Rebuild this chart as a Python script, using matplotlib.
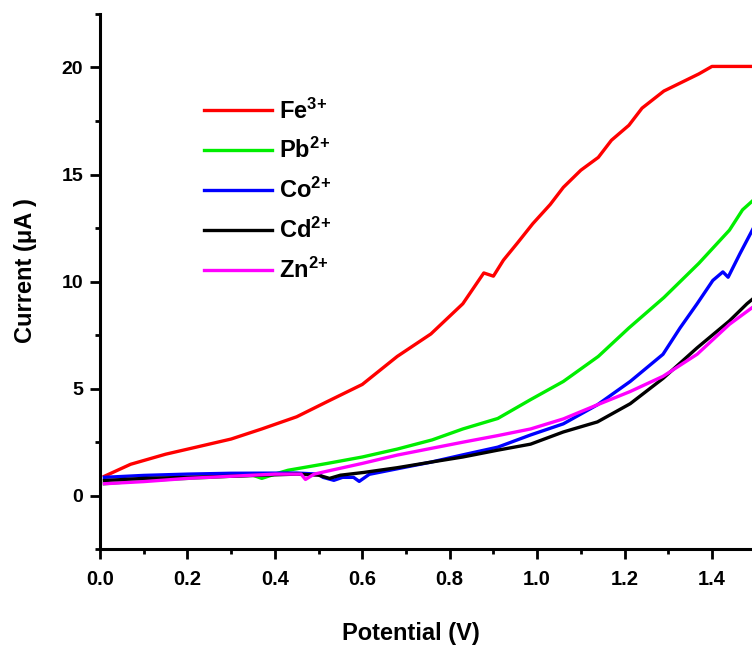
import matplotlib
matplotlib.use("Agg")
import matplotlib.pyplot as plt

plt.rcParams['font.family'] = ['Liberation Sans', 'DejaVu Sans']
plt.rcParams['font.weight'] = 'bold'
plt.rcParams['mathtext.fontset'] = 'custom'
plt.rcParams['mathtext.rm'] = 'Liberation Sans:bold'
plt.rcParams['mathtext.bf'] = 'Liberation Sans:bold'
plt.rcParams['mathtext.default'] = 'rm'

# data (potential in V, current in uA)
fe_x = [0.01, 0.07, 0.15, 0.22, 0.30, 0.37, 0.45, 0.52, 0.60, 0.68, 0.757, 0.83,
        0.878, 0.90, 0.923, 0.955, 0.99, 1.03, 1.06, 1.10, 1.14, 1.17, 1.21,
        1.24, 1.29, 1.33, 1.37, 1.40, 1.52]
fe_y = [0.9, 1.46, 1.93, 2.26, 2.64, 3.11, 3.68, 4.39, 5.19, 6.5, 7.55, 8.96,
        10.4, 10.25, 11.0, 11.8, 12.7, 13.6, 14.4, 15.2, 15.8, 16.6, 17.3,
        18.1, 18.9, 19.3, 19.7, 20.05, 20.05]

pb_x = [0.01, 0.1, 0.2, 0.3, 0.35, 0.37, 0.40, 0.43, 0.52, 0.60, 0.68, 0.76,
        0.83, 0.91, 0.985, 1.06, 1.14, 1.21, 1.29, 1.37, 1.44, 1.47, 1.50]
pb_y = [0.55, 0.7, 0.8, 0.9, 0.95, 0.8, 1.0, 1.18, 1.5, 1.8, 2.17, 2.6,
        3.11, 3.6, 4.48, 5.33, 6.5, 7.83, 9.25, 10.85, 12.4, 13.35, 13.9]

co_x = [0.01, 0.1, 0.2, 0.3, 0.45, 0.50, 0.51, 0.535, 0.555, 0.58, 0.593,
        0.616, 0.68, 0.757, 0.83, 0.91, 0.985, 1.06, 1.138, 1.213, 1.288,
        1.327, 1.366, 1.402, 1.425, 1.437, 1.464, 1.50]
co_y = [0.85, 0.94, 1.0, 1.04, 1.05, 1.0, 0.85, 0.71, 0.85, 0.85, 0.66,
        0.99, 1.25, 1.56, 1.9, 2.26, 2.83, 3.35, 4.24, 5.33, 6.6,
        7.83, 8.96, 10.05, 10.45, 10.2, 11.3, 12.7]

cd_x = [0.01, 0.1, 0.2, 0.3, 0.45, 0.50, 0.525, 0.55, 0.604, 0.68, 0.757,
        0.83, 0.91, 0.985, 1.06, 1.138, 1.213, 1.288, 1.366, 1.44, 1.48, 1.50]
cd_y = [0.7, 0.8, 0.85, 0.9, 1.0, 0.95, 0.8, 0.95, 1.08, 1.3, 1.56,
        1.8, 2.12, 2.4, 2.97, 3.44, 4.29, 5.47, 6.9, 8.16, 8.96, 9.3]

zn_x = [0.01, 0.1, 0.2, 0.3, 0.4, 0.46, 0.47, 0.49, 0.529, 0.60, 0.68, 0.757,
        0.832, 0.91, 0.985, 1.06, 1.138, 1.213, 1.288, 1.366, 1.44, 1.50]
zn_y = [0.55, 0.65, 0.8, 0.9, 1.0, 1.0, 0.75, 1.0, 1.18, 1.5, 1.89, 2.2,
        2.5, 2.8, 3.11, 3.58, 4.24, 4.86, 5.57, 6.6, 8.0, 8.9]

series = [
    ("Fe$^{3\\!+}$", fe_x, fe_y, "#ff0000"),
    ("Pb$^{2\\!+}$", pb_x, pb_y, "#00ee00"),
    ("Co$^{2\\!+}$", co_x, co_y, "#0000ff"),
    ("Cd$^{2\\!+}$", cd_x, cd_y, "#000000"),
    ("Zn$^{2\\!+}$", zn_x, zn_y, "#ff00ff"),
]

fig = plt.figure(figsize=(7.52, 6.45), dpi=100)
ax = fig.add_axes([0.133, 0.1488, 0.930, 0.8295])

for label, xs, ys, color in series:
    ax.plot(xs, ys, color=color, lw=2.4, label=label)

ax.set_xlim(0, 1.6)
ax.set_ylim(-2.5, 22.5)
ax.set_xticks([0.0, 0.2, 0.4, 0.6, 0.8, 1.0, 1.2, 1.4])
ax.set_xticks([0.1, 0.3, 0.5, 0.7, 0.9, 1.1, 1.3, 1.5], minor=True)
ax.set_yticks([0, 5, 10, 15, 20])
ax.set_yticks([-2.5, 2.5, 7.5, 12.5, 17.5, 22.5], minor=True)
ax.set_xticklabels(['0.0', '0.2', '0.4', '0.6', '0.8', '1.0', '1.2', '1.4'])

for side in ['top', 'right']:
    ax.spines[side].set_visible(False)
for side in ['left', 'bottom']:
    ax.spines[side].set_linewidth(2.2)

ax.tick_params(axis='both', which='major', direction='out', length=7, width=2.0)
ax.tick_params(axis='both', which='minor', direction='out', length=3.5, width=2.0)
ax.tick_params(axis='x', labelsize=14.5, pad=8)
ax.tick_params(axis='y', labelsize=14, pad=5)

ax.set_xlabel('Potential (V)', fontsize=17, fontweight='bold', va='top')
ax.xaxis.set_label_coords(0.445, -0.137)
ax.set_ylabel('Current (\u03bcA )', fontsize=17, fontweight='bold')
ax.yaxis.set_label_coords(-0.090, 0.52)

ax.legend(loc='upper left', bbox_to_anchor=(0.135, 0.86), frameon=False,
          fontsize=17, handlelength=2.9, handletextpad=0.3, labelspacing=0.62,
          borderaxespad=0)

plt.savefig('out.png', dpi=100)
